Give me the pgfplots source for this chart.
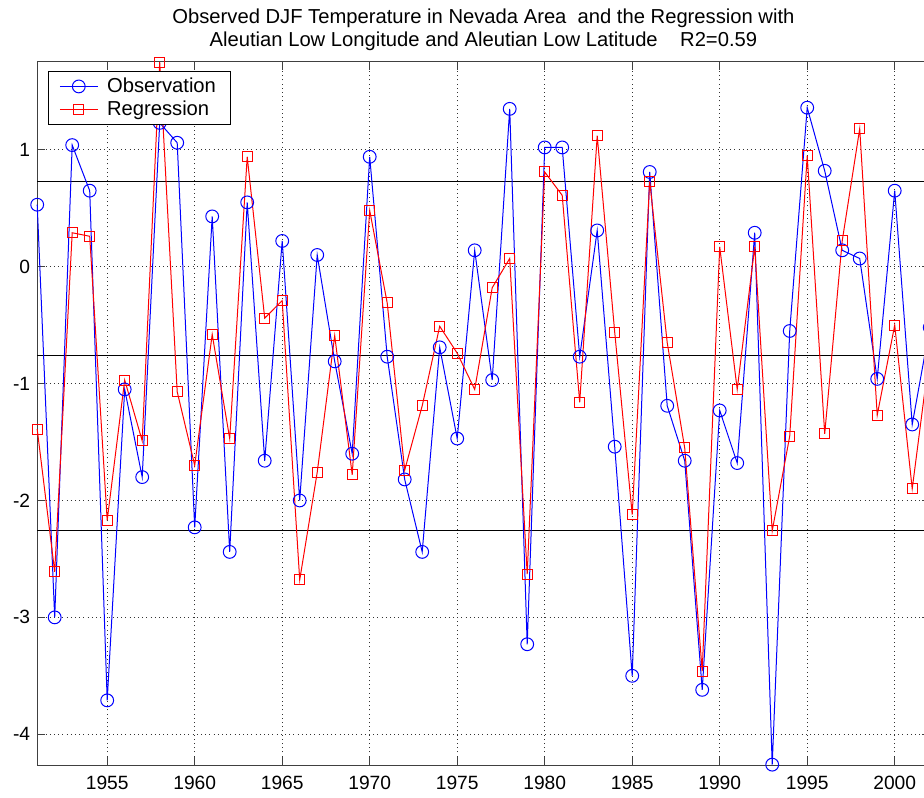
\documentclass[border=0pt]{standalone}
\usepackage{pgfplots}
\pgfplotsset{compat=1.18}
\usepackage{fontspec}
\setmainfont{Liberation Sans}
\definecolor{mblue}{RGB}{0,0,255}
\definecolor{mred}{RGB}{255,0,0}
\begin{document}
\begin{tikzpicture}
\begin{axis}[
  at={(0pt,0pt)}, anchor=south west,
  scale only axis,
  width=446.25pt, height=351.5pt,
  xmin=1951, xmax=2002,
  ymin=-4.263, ymax=1.751,
  xtick={1955,1960,1965,1970,1975,1980,1985,1990,1995,2000},
  ytick={-4,-3,-2,-1,0,1},
  /pgf/number format/assume math mode=true,
  /pgf/number format/1000 sep={},
  tick label style={font=\fontsize{9.6}{11}\selectfont},
  xticklabel style={yshift=-2.2pt},
  tick align=inside,
  xtick pos=both, ytick pos=both,
  major tick length=4pt,
  every tick/.style={black!75, line width=0.5pt},
  axis line style={black!75, line width=0.5pt},
  grid=major,
  major grid style={black!80, line width=0.5pt, dash pattern=on 0.5pt off 1.6pt},
  clip=false,
  title={Observed DJF Temperature in Nevada Area \ and the Regression with\\Aleutian Low Longitude and Aleutian Low Latitude \ \ \ R2=0.59},
  every axis title/.style={at={(0.5,1)}, anchor=south, yshift=5.5pt, inner sep=0pt, align=center, font=\fontsize{10.1}{11.2}\selectfont},
  legend style={at={(0.0121,0.987)}, anchor=north west, font=\fontsize{10.1}{11}\selectfont, draw=black, line width=0.5pt, row sep=-1.2pt, column sep=2.5pt, inner xsep=5.5pt, inner ysep=1pt, fill=white},
  legend cell align=left,
  legend image code/.code={\draw[mark repeat=2,mark phase=2] plot coordinates {(0cm,0cm) (0.33cm,0cm) (0.66cm,0cm)};},
]
\addplot[black, line width=0.5pt, forget plot] coordinates {(1951,0.727) (2002,0.727)};
\addplot[black, line width=0.5pt, forget plot] coordinates {(1951,-0.764) (2002,-0.764)};
\addplot[black, line width=0.5pt, forget plot] coordinates {(1951,-2.255) (2002,-2.255)};
\addplot[color=mblue, line width=0.5pt, mark=o, mark size=3.2pt, mark options={solid, draw=mblue, fill=none, line width=0.5pt}] coordinates {
(1951,0.53) (1952,-3.00) (1953,1.04) (1954,0.65) (1955,-3.71) (1956,-1.05) (1957,-1.80) (1958,1.23) (1959,1.06) (1960,-2.23)
(1961,0.43) (1962,-2.44) (1963,0.55) (1964,-1.66) (1965,0.22) (1966,-2.00) (1967,0.10) (1968,-0.81) (1969,-1.60) (1970,0.94)
(1971,-0.77) (1972,-1.82) (1973,-2.44) (1974,-0.69) (1975,-1.47) (1976,0.14) (1977,-0.97) (1978,1.35) (1979,-3.23) (1980,1.02)
(1981,1.02) (1982,-0.77) (1983,0.31) (1984,-1.54) (1985,-3.50) (1986,0.81) (1987,-1.19) (1988,-1.66) (1989,-3.62) (1990,-1.23)
(1991,-1.68) (1992,0.29) (1993,-4.26) (1994,-0.55) (1995,1.36) (1996,0.82) (1997,0.14) (1998,0.07) (1999,-0.96) (2000,0.65)
(2001,-1.35) (2002,-0.52)
};
\addlegendentry{Observation}
\addplot[color=mred, line width=0.5pt, mark=square, mark size=2.5pt, mark options={solid, draw=mred, fill=none, line width=0.5pt}] coordinates {
(1951,-1.39) (1952,-2.61) (1953,0.29) (1954,0.26) (1955,-2.17) (1956,-0.97) (1957,-1.49) (1958,1.75) (1959,-1.07) (1960,-1.70)
(1961,-0.58) (1962,-1.47) (1963,0.94) (1964,-0.44) (1965,-0.29) (1966,-2.68) (1967,-1.76) (1968,-0.59) (1969,-1.78) (1970,0.48)
(1971,-0.31) (1972,-1.74) (1973,-1.19) (1974,-0.51) (1975,-0.74) (1976,-1.05) (1977,-0.18) (1978,0.07) (1979,-2.63) (1980,0.81)
(1981,0.61) (1982,-1.16) (1983,1.12) (1984,-0.56) (1985,-2.12) (1986,0.73) (1987,-0.65) (1988,-1.55) (1989,-3.46) (1990,0.17)
(1991,-1.05) (1992,0.17) (1993,-2.26) (1994,-1.45) (1995,0.95) (1996,-1.43) (1997,0.22) (1998,1.18) (1999,-1.27) (2000,-0.50)
(2001,-1.90) (2002,-0.74)
};
\addlegendentry{Regression}
\end{axis}
\pgfresetboundingbox
\path[use as bounding box] (-18.6pt,-16pt) rectangle (443.4pt,382.5pt);
\end{tikzpicture}
\end{document}
